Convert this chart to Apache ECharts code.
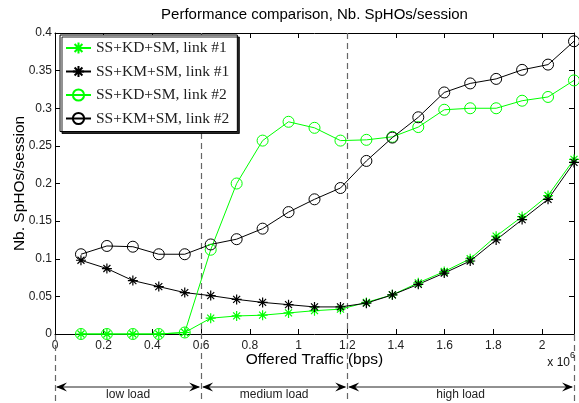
<!DOCTYPE html>
<html><head><meta charset="utf-8">
<script src="https://cdn.jsdelivr.net/npm/echarts@6/dist/echarts.min.js"></script>
<style>html,body{margin:0;padding:0;background:#fff}#c{width:579px;height:403px}</style>
</head><body><div id="c"></div>
<script>
// Offered traffic, in units of 10^6 bps
const trafficMbps = [0.1066, 0.2131, 0.3197, 0.4262, 0.5328, 0.6394, 0.7459, 0.8525, 0.9590, 1.0656,
                     1.1722, 1.2787, 1.3853, 1.4918, 1.5984, 1.7050, 1.8115, 1.9181, 2.0246, 2.1312];
const kdLink1 = [0, 0, 0, 0, 0.002, 0.021, 0.024, 0.025, 0.028, 0.031,
                 0.033, 0.042, 0.052, 0.068, 0.083, 0.100, 0.130, 0.156, 0.184, 0.232];
const kmLink1 = [0.098, 0.087, 0.071, 0.063, 0.055, 0.051, 0.046, 0.042, 0.039, 0.036,
                 0.036, 0.041, 0.052, 0.066, 0.081, 0.097, 0.125, 0.152, 0.179, 0.228];
const kdLink2 = [0, 0, 0, 0, 0.002, 0.112, 0.200, 0.257, 0.282, 0.274,
                 0.257, 0.258, 0.262, 0.275, 0.298, 0.300, 0.300, 0.310, 0.315, 0.337];
const kmLink2 = [0.106, 0.117, 0.116, 0.106, 0.106, 0.119, 0.126, 0.140, 0.162, 0.179,
                 0.194, 0.230, 0.261, 0.288, 0.321, 0.333, 0.339, 0.351, 0.358, 0.389];
const seriesNames = ['SS+KD+SM, link #1', 'SS+KM+SM, link #1', 'SS+KD+SM, link #2', 'SS+KM+SM, link #2'];
const xMin = 0, xMax = 2.1312, xStep = 0.2;
const yMin = 0, yMax = 0.4, yStep = 0.05;
const loadBounds = [0, 0.6, 1.2, 2.1312];
const loadLabels = ['low load', 'medium load', 'high load'];
const titleText = 'Performance comparison, Nb. SpHOs/session';
const xName = 'Offered Traffic (bps)';
const yName = 'Nb. SpHOs/session';

const GREEN = '#00ff00', BLACK = '#000000';
const STAR = 'path://M10,0L10,20M0,10L20,10M3,3L17,17M3,17L17,3';
const SANS = 'Liberation Sans, Arial, sans-serif';

function mkSeries(name, ys, color, isStar) {
  return {
    name: name, type: 'line',
    data: trafficMbps.map((x, i) => [x, ys[i]]),
    symbol: isStar ? STAR : 'circle',
    symbolSize: isStar ? 10 : 11,
    showAllSymbol: true,
    clip: false,
    lineStyle: { color: color, width: 1 },
    itemStyle: { color: isStar ? color : 'rgba(0,0,0,0)', borderColor: color, borderWidth: isStar ? 1.2 : 1 },
    emphasis: { disabled: true },
    animation: false
  };
}

const gridL = 55, gridR = 5, gridT = 33, gridB = 69;
const chart = echarts.init(document.getElementById('c'), null, { renderer: 'canvas' });
const axisLine = { show: true, onZero: false, lineStyle: { color: '#000', width: 1 } };
const tick = { show: true, inside: true, length: 5, lineStyle: { color: '#000' } };
const option = {
  animation: false,
  backgroundColor: '#fff',
  title: {
    text: titleText, left: gridL + (579 - gridL - gridR) / 2, textAlign: 'center', top: 7, padding: 0,
    textStyle: { fontFamily: SANS, fontSize: 15, fontWeight: 'normal', color: '#000' }
  },
  grid: { left: gridL, right: gridR, top: gridT, bottom: gridB, containLabel: false, outerBoundsMode: 'none' },
  legend: {
    data: seriesNames, orient: 'vertical', left: 60, top: 35,
    itemWidth: 25, itemHeight: 14, itemGap: 7.5, padding: [5, 8, 5, 5],
    backgroundColor: '#fff', borderColor: '#000', borderWidth: 1,
    shadowColor: 'rgba(0,0,0,0.85)', shadowOffsetX: 2, shadowOffsetY: 2, shadowBlur: 0,
    selectedMode: false,
    textStyle: { fontFamily: 'Liberation Serif, Times New Roman, serif', fontSize: 15.5, color: '#222' }
  },
  xAxis: [
    { type: 'value', min: xMin, max: xMax, interval: xStep, position: 'bottom',
      axisLine: axisLine, axisTick: tick, splitLine: { show: false },
      axisLabel: { showMaxLabel: false, margin: 6, fontFamily: SANS, fontSize: 12, color: '#222' },
      name: xName, nameLocation: 'middle', nameGap: 18, nameMoveOverlap: false,
      nameTextStyle: { fontFamily: SANS, fontSize: 15.5, color: '#000' } },
    { type: 'value', min: xMin, max: xMax, interval: xStep, position: 'top',
      axisLine: axisLine, axisTick: tick, splitLine: { show: false }, axisLabel: { show: false } }
  ],
  yAxis: [
    { type: 'value', min: yMin, max: yMax, interval: yStep, position: 'left',
      axisLine: axisLine, axisTick: tick, splitLine: { show: false },
      axisLabel: { margin: 3, fontFamily: SANS, fontSize: 12, color: '#222' },
      name: yName, nameLocation: 'middle', nameGap: 27, nameRotate: 90, nameMoveOverlap: false,
      nameTextStyle: { fontFamily: SANS, fontSize: 15.5, color: '#000' } },
    { type: 'value', min: yMin, max: yMax, interval: yStep, position: 'right',
      axisLine: axisLine, axisTick: tick, splitLine: { show: false }, axisLabel: { show: false } }
  ],
  series: [
    mkSeries(seriesNames[0], kdLink1, GREEN, true),
    mkSeries(seriesNames[1], kmLink1, BLACK, true),
    mkSeries(seriesNames[2], kdLink2, GREEN, false),
    mkSeries(seriesNames[3], kmLink2, BLACK, false)
  ]
};
chart.setOption(option);

// Annotations placed through the axis scales
const px = v => chart.convertToPixel({ xAxisIndex: 0 }, v);
const py = v => chart.convertToPixel({ yAxisIndex: 0 }, v);
const H = 403;
const yBot = py(yMin), yTop = py(yMax);
const arrowY = yBot + 53;
const g = [];
const dash = { stroke: '#666', lineWidth: 1.2, lineDash: [6, 4] };
loadBounds.forEach((b, i) => {
  const x = Math.round(px(b)) + 0.5;
  const inner = i > 0 && i < loadBounds.length - 1;
  g.push({ type: 'line', z: 3, silent: true,
    shape: { x1: x, y1: inner ? yTop : yBot + 1, x2: x, y2: H }, style: dash });
});
for (let i = 0; i < loadLabels.length; i++) {
  const a = px(loadBounds[i]), b = px(loadBounds[i + 1]);
  g.push({ type: 'line', z: 5, silent: true, shape: { x1: a + 2, y1: arrowY, x2: b - 2, y2: arrowY },
    style: { stroke: '#222', lineWidth: 1 } });
  g.push({ type: 'polygon', z: 5, silent: true,
    shape: { points: [[a + 1, arrowY], [a + 12, arrowY - 4.5], [a + 8, arrowY], [a + 12, arrowY + 4.5]] },
    style: { fill: '#000' } });
  g.push({ type: 'polygon', z: 5, silent: true,
    shape: { points: [[b - 1, arrowY], [b - 12, arrowY - 4.5], [b - 8, arrowY], [b - 12, arrowY + 4.5]] },
    style: { fill: '#000' } });
  g.push({ type: 'text', z: 5, silent: true, x: (a + b) / 2, y: arrowY + 8,
    style: { text: loadLabels[i], fill: '#222', font: '12px ' + SANS, align: 'center', verticalAlign: 'middle' } });
}
const xr = px(xMax);
g.push({ type: 'text', z: 5, silent: true, x: xr - 4, y: yBot + 29,
  style: { text: 'x 10', fill: '#111', font: '12px ' + SANS, align: 'right', verticalAlign: 'middle' } });
g.push({ type: 'text', z: 5, silent: true, x: xr - 4, y: yBot + 22,
  style: { text: '6', fill: '#111', font: '9px ' + SANS, align: 'left', verticalAlign: 'middle' } });
chart.setOption({ graphic: g });
</script>
</body></html>
